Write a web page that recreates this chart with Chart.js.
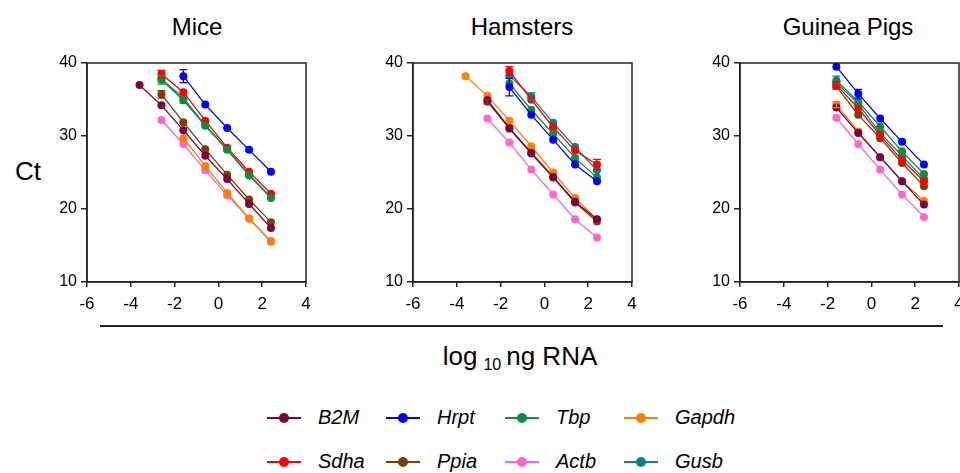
<!DOCTYPE html>
<html>
<head>
<meta charset="utf-8">
<script src="https://cdn.jsdelivr.net/npm/chart.js@4/dist/chart.umd.min.js"></script>
<style>
    body { margin: 0; width: 960px; height: 473px; overflow: hidden; background: #fff; font-family: "Liberation Sans", Arial, sans-serif; position: relative; }
    .pane { position: absolute; top: 0; }
    .title { position: absolute; top: 13px; font-size: 24px; color: #000; transform: translateX(-50%); white-space: nowrap; }
    .ct { position: absolute; left: 15px; top: 156px; font-size: 26px; }
    .rule { position: absolute; left: 100px; top: 325px; width: 843px; height: 1.5px; background: #222; }
    .xtitle { position: absolute; left: 520px; top: 341px; transform: translateX(-50%); font-size: 26px; white-space: nowrap; }
    .xtitle sub { font-size: 16px; vertical-align: -5px; margin: 0 5px 0 6px; }
    .leg { position: absolute; font-size: 20px; font-style: italic; }
    .leg .ln { position: absolute; left: 0; top: 11px; width: 34px; height: 2px; }
    .leg .dot { position: absolute; left: 12px; top: 7px; width: 10px; height: 10px; border-radius: 50%; }
    .leg .tx { position: absolute; left: 51px; top: 0; white-space: nowrap; }
</style>
</head>
<body>
<div class="title" style="left:197px">Mice</div>
<div class="title" style="left:522px">Hamsters</div>
<div class="title" style="left:848px">Guinea Pigs</div>
<div class="ct">Ct</div>
<canvas id="mice" class="pane" style="left:42px"></canvas>
<canvas id="hamsters" class="pane" style="left:368px"></canvas>
<canvas id="guinea" class="pane" style="left:695px"></canvas>
<div class="rule"></div>
<div class="xtitle">log<sub>10</sub>ng RNA</div>
<div id="legend"></div>

<script>
// log10 ng RNA de chaque dilution
const doses = [-3.6, -2.6, -1.6, -0.6, 0.4, 1.4, 2.4];
const genes = ['B2M', 'Hrpt', 'Tbp', 'Gapdh', 'Sdha', 'Ppia', 'Actb', 'Gusb'];
const colors = ['#7b0041', '#0000ff', '#138a3e', '#ff8000', '#ff0000', '#7b3f00', '#ff66cc', '#137f7f'];
const xTicks = [-6, -4, -2, 0, 2, 4];
const yTicks = [10, 20, 30, 40];

// Ct par gène (même ordre que genes), une valeur par dilution
const miceCt = [
    [37.0, 34.2, 30.8, 27.3, 24.1, 20.7, 17.4],
    [null, null, 38.2, 34.3, 31.1, 28.1, 25.1],
    [null, 37.7, 34.9, 31.4, 28.1, 24.6, 21.5],
    [null, null, 29.7, 25.9, 22.2, 18.7, 15.6],
    [null, 38.5, 36.0, 32.1, 28.4, 25.1, 22.1],
    [null, 35.7, 31.9, 28.2, 24.7, 21.3, 18.2],
    [null, 32.2, 28.9, 25.3, 21.9, 18.7, 15.5],
    [null, 37.8, 35.2, 31.5, 28.2, 24.7, 21.6],
];
const hamstersCt = [
    [null, 34.9, 31.1, 27.7, 24.4, 21.0, 18.6],
    [null, null, 36.7, 32.9, 29.5, 26.1, 23.8],
    [null, null, 37.2, 33.6, 30.3, 27.0, 24.3],
    [38.2, 35.5, 32.1, 28.6, 25.0, 21.5, 18.6],
    [null, null, 38.9, 35.0, 31.2, 28.0, 26.1],
    [null, 34.7, 31.0, 27.6, 24.3, 20.9, 18.3],
    [null, 32.4, 29.1, 25.4, 22.0, 18.6, 16.1],
    [null, null, 38.3, 35.4, 31.8, 28.5, 25.3],
];
const guineaCt = [
    [null, null, 33.9, 30.4, 27.1, 23.8, 20.6],
    [null, null, 39.5, 35.8, 32.4, 29.2, 26.1],
    [null, null, 37.6, 34.7, 31.3, 27.9, 24.8],
    [null, null, 34.3, 30.6, 27.1, 23.8, 21.1],
    [null, null, 37.0, 33.8, 30.1, 26.7, 23.8],
    [null, null, 36.8, 32.9, 29.7, 26.3, 23.1],
    [null, null, 32.5, 28.9, 25.4, 22.0, 18.9],
    [null, null, 37.3, 34.4, 30.4, 27.3, 24.1],
];

// Barres d'erreur visibles : [indice gène, indice dilution, écart-type]
const miceErr = [[4, 1, 0.5], [2, 1, 0.6], [5, 1, 0.5], [1, 2, 0.9], [2, 2, 0.4]];
const hamstersErr = [[1, 2, 1.2], [4, 2, 0.6], [7, 3, 0.5], [4, 6, 0.7], [5, 1, 0.3]];
const guineaErr = [[7, 2, 0.9], [1, 3, 0.6], [3, 2, 0.4], [4, 2, 0.4]];

const FONT = '"Liberation Sans", Arial, sans-serif';

// Cadre complet autour de la zone du graphique
const framePlugin = {
    id: 'frame',
    afterDraw(chart) {
        const a = chart.chartArea, ctx = chart.ctx;
        ctx.save();
        ctx.strokeStyle = '#222';
        ctx.lineWidth = 1.5;
        ctx.strokeRect(a.left, a.top, a.right - a.left, a.bottom - a.top);
        ctx.restore();
    }
};

// Barres d'erreur dessinées avec les échelles du graphique
const errorPlugin = {
    id: 'errbars',
    afterDatasetsDraw(chart, args, opts) {
        const ctx = chart.ctx, xs = chart.scales.x, ys = chart.scales.y;
        ctx.save();
        ctx.lineWidth = 1.3;
        (opts.errs || []).forEach(([g, i, sd]) => {
            const v = opts.values[g][i];
            if (v == null) return;
            const x = xs.getPixelForValue(doses[i]);
            const y1 = ys.getPixelForValue(v + sd), y2 = ys.getPixelForValue(v - sd);
            ctx.strokeStyle = colors[g];
            ctx.beginPath();
            ctx.moveTo(x, y1); ctx.lineTo(x, y2);
            ctx.moveTo(x - 4, y1); ctx.lineTo(x + 4, y1);
            ctx.moveTo(x - 4, y2); ctx.lineTo(x + 4, y2);
            ctx.stroke();
        });
        ctx.restore();
    }
};

function createChart(id, values, errs) {
    const canvas = document.getElementById(id);
    canvas.width = 276;
    canvas.height = 318;
    const datasets = genes.map((g, k) => ({
        label: g,
        data: doses.map((d, i) => ({ x: d, y: values[k][i] })).filter(p => p.y != null),
        borderColor: colors[k],
        backgroundColor: colors[k],
        borderWidth: 1.3,
        pointRadius: 4,
        pointBorderWidth: 0,
    }));
    return new Chart(canvas, {
        type: 'line',
        data: { datasets: datasets },
        plugins: [errorPlugin, framePlugin],
        options: {
            responsive: false,
            animation: false,
            layout: { padding: { top: 63, left: 5, right: 12, bottom: 0 } },
            plugins: {
                legend: { display: false },
                tooltip: { enabled: false },
                errbars: { values: values, errs: errs },
            },
            scales: {
                x: {
                    type: 'linear', min: -6, max: 4,
                    afterBuildTicks: s => { s.ticks = xTicks.map(v => ({ value: v })); },
                    afterFit: s => { s.height = 36; },
                    grid: { drawOnChartArea: false, drawTicks: true, tickLength: 5, color: '#222', lineWidth: 1.5 },
                    border: { color: '#222', width: 1.5 },
                    ticks: { color: '#000', font: { family: FONT, size: 17 }, padding: 7, maxRotation: 0 },
                },
                y: {
                    type: 'linear', min: 10, max: 40,
                    afterBuildTicks: s => { s.ticks = yTicks.map(v => ({ value: v })); },
                    afterFit: s => { s.width = 40; },
                    grid: { drawOnChartArea: false, drawTicks: true, tickLength: 6, color: '#222', lineWidth: 1.5 },
                    border: { color: '#222', width: 1.5 },
                    ticks: { color: '#000', font: { family: FONT, size: 16 }, padding: 4 },
                },
            },
        },
    });
}

createChart('mice', miceCt, miceErr);
createChart('hamsters', hamstersCt, hamstersErr);
createChart('guinea', guineaCt, guineaErr);

// Légende HTML : 4 colonnes, 2 lignes
const legend = document.getElementById('legend');
genes.forEach((g, k) => {
    const col = k % 4, row = Math.floor(k / 4);
    const item = document.createElement('div');
    item.className = 'leg';
    item.style.left = (267 + col * 119) + 'px';
    item.style.top = (406 + row * 44) + 'px';
    item.innerHTML = `<div class="ln" style="background:${colors[k]}"></div>` +
        `<div class="dot" style="background:${colors[k]}"></div><div class="tx">${g}</div>`;
    legend.appendChild(item);
});
</script>
</body>
</html>
